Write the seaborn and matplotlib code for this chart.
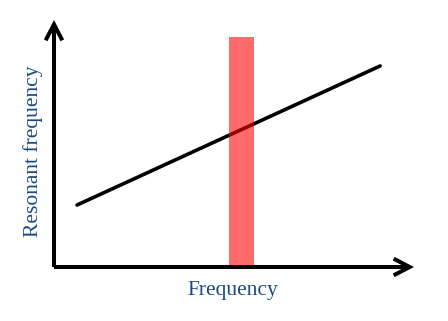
import matplotlib
matplotlib.use("Agg")
import matplotlib.pyplot as plt
import seaborn as sns
import pandas as pd

# Data (arbitrary units, origin at axes corner)
line_x = [0.64, 9.06]
line_y = [2.51, 8.14]
band_center = [5.21]
band_width = 0.69
band_height = [9.31]
x_label = "Frequency"
y_label = "Resonant frequency"

sns.set_style("white")
plt.rcParams['font.family'] = ['Liberation Serif', 'DejaVu Serif']

W, H = 448, 321
fig = plt.figure(figsize=(W / 100, H / 100), dpi=100)
ox, oy = 54, 267
tipx, tipy = 414, 20
ax = fig.add_axes([ox / W, (H - oy) / H, (tipx - ox) / W, (oy - tipy) / H])
ax.set_xlim(0, 10)
ax.set_ylim(0, 10)
ax.axis("off")

df = pd.DataFrame({"x": line_x, "y": line_y})
sns.lineplot(data=df, x="x", y="y", color="black", linewidth=2.6, ax=ax, zorder=2)
ax.bar(band_center, band_height, width=band_width, color="red", alpha=0.58,
       linewidth=0, zorder=3)

style = "->,head_length=1.15,head_width=0.6"
for end in [(10, 0), (0, 10)]:
    ax.annotate("", xy=end, xytext=(0, 0), annotation_clip=False,
                arrowprops=dict(arrowstyle=style, lw=2.9, color="black",
                                shrinkA=0, shrinkB=0, capstyle="butt",
                                joinstyle="miter"))

label_color = "#1a4a82"
fig.text(233 / W, 1 - 290 / H, x_label, ha="center", va="center",
         fontsize=15.5, color=label_color)
fig.text(33 / W, 1 - 151 / H, y_label, ha="center", va="center",
         rotation=90, fontsize=15.5, color=label_color)

fig.savefig("out.png", dpi=100, facecolor="white")
